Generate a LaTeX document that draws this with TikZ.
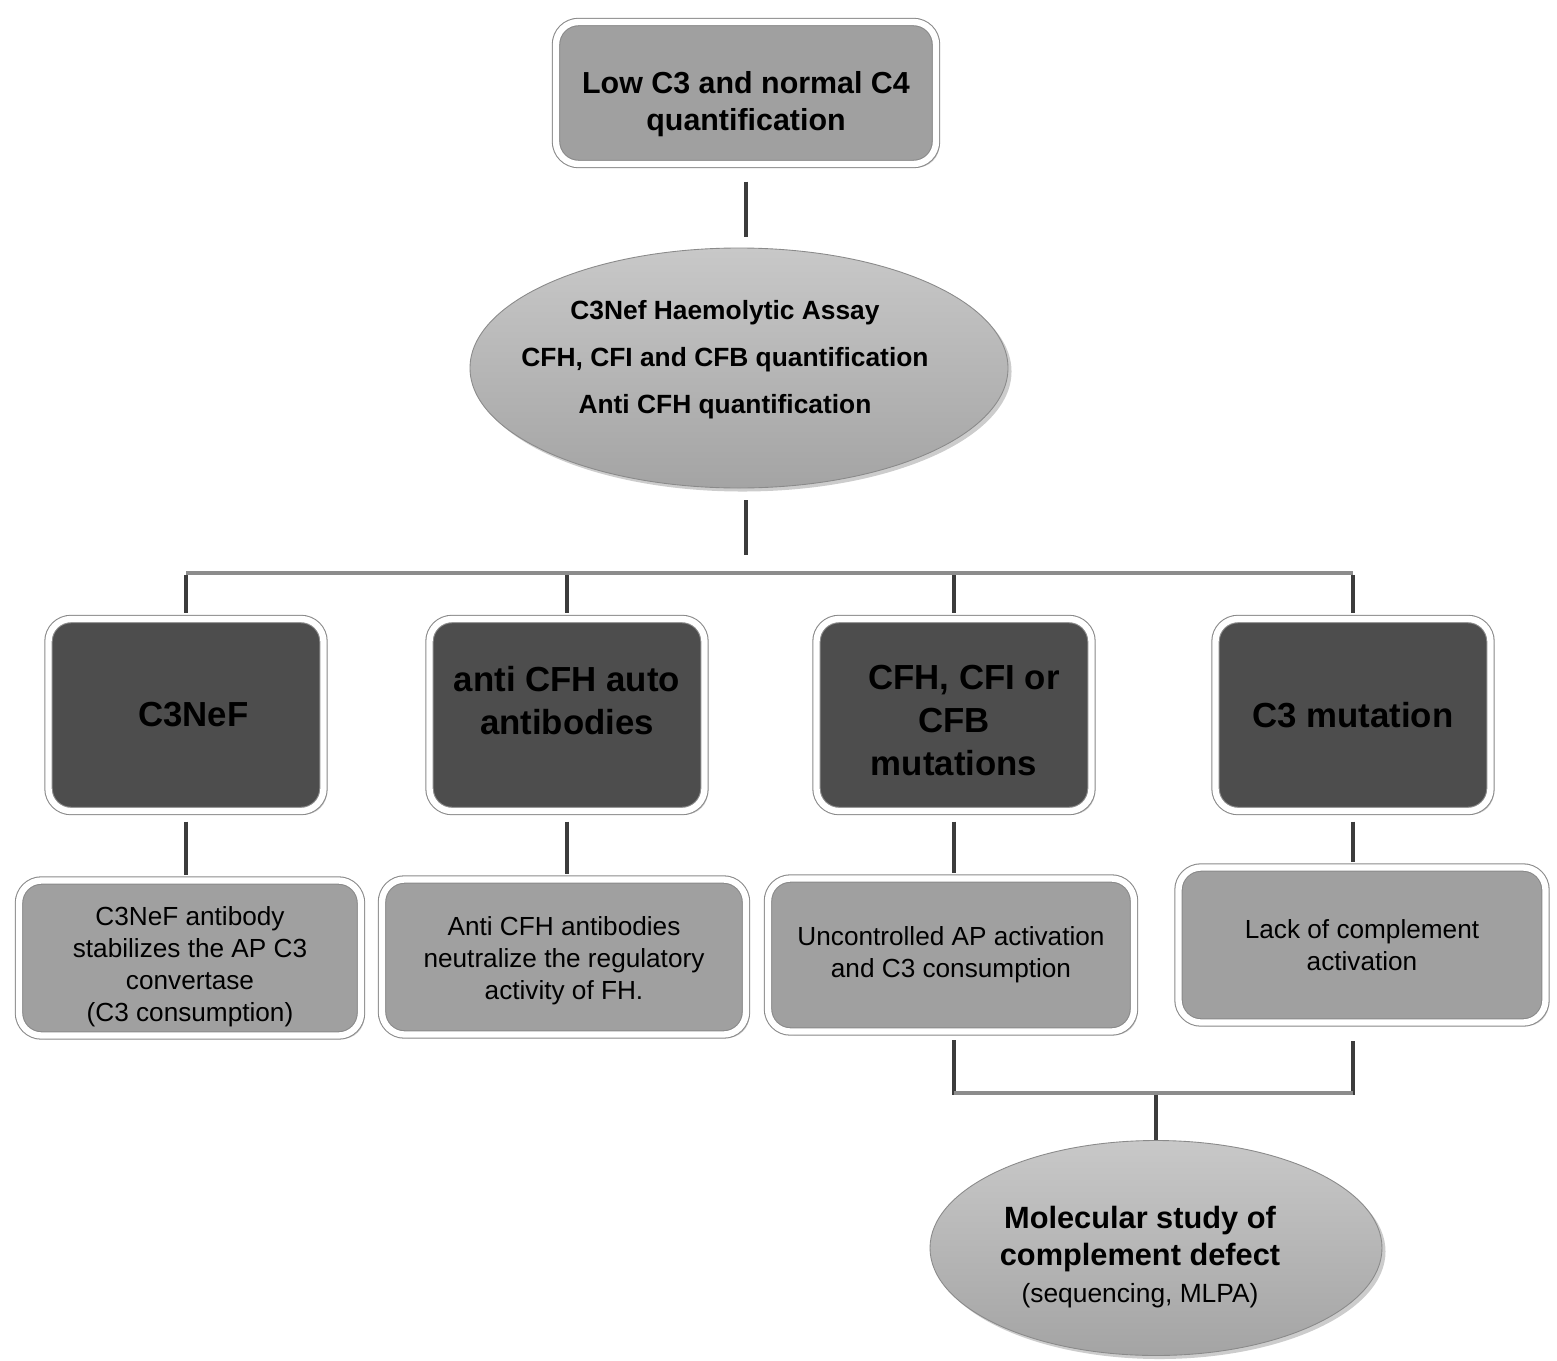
\documentclass[tikz,border=0pt]{standalone}
\usepackage{fontspec}
\setmainfont{Liberation Sans}
\usetikzlibrary{positioning}
\usetikzlibrary{shapes.geometric}
\usetikzlibrary{shadows}
\definecolor{boxgray}{HTML}{A0A0A0}
\definecolor{darkbox}{HTML}{4D4D4D}
\definecolor{rimgray}{HTML}{8A8A8A}
\definecolor{linkgray}{HTML}{3C3C3C}
\definecolor{busgray}{HTML}{8C8C8C}
\definecolor{testtop}{HTML}{C8C8C8}
\definecolor{testbot}{HTML}{A4A4A4}
\tikzset{
	framed/.style={rectangle, rounded corners=0.45cm, draw=rimgray, line width=0.6pt, double=white, double distance=3.6pt, drop shadow={shadow xshift=2pt, shadow yshift=-2pt, opacity=0.4}},
	header/.style={framed, fill=boxgray, minimum width=7.6cm, minimum height=2.84cm, align=center, font=\fontsize{17.3}{21}\selectfont\bfseries},
	finding/.style={framed, fill=darkbox, minimum width=5.5cm, minimum height=3.84cm, align=center, font=\fontsize{19.8}{24.5}\selectfont\bfseries},
	effect/.style={framed, fill=boxgray, minimum height=3.1cm, align=center, font=\fontsize{14.9}{18.2}\selectfont},
	% grey ellipses for the tests
	test/.style={ellipse, draw=rimgray, line width=0.5pt, top color=testtop, bottom color=testbot, inner xsep=-1.6cm, drop shadow={shadow xshift=2pt, shadow yshift=-2pt, opacity=0.4}, align=center},
	link/.style={draw=linkgray, line width=2pt},
	bus/.style={draw=busgray, line width=2pt},
}

\begin{document}
\begin{tikzpicture}
	\useasboundingbox (0,0) rectangle (31.14,-27.22);
	
	\node (screen) [header, text height=46.7pt] at (14.92,-1.86) {Low C3 and normal C4\\quantification};
	\node (assay) [test, minimum width=10.76cm, minimum height=4.8cm, text depth=12.6pt, font=\fontsize{15}{26.7}\selectfont\bfseries, below of=screen, xshift=-0.14cm, yshift=-4.5cm] {C3Nef Haemolytic Assay\rule{0.56cm}{0pt}\\CFH, CFI and CFB quantification\rule{0.56cm}{0pt}\\Anti CFH quantification\rule{0.56cm}{0pt}};
	
	\node (c3nef) [finding, below of=assay, xshift=-11.06cm, yshift=-5.94cm] {\rule{0.3cm}{0pt}C3NeF};
	\node (antifh) [finding, text depth=16.8pt, right of=c3nef, xshift=6.62cm] {anti CFH auto\\antibodies};
	\node (fhmut) [finding, text height=68.8pt, right of=antifh, xshift=6.74cm] {\rule{0.4cm}{0pt}CFH, CFI or\\CFB\\mutations};
	\node (c3mut) [finding, right of=fhmut, xshift=6.98cm] {C3 mutation};
	
	\node (stab) [effect, text height=75.7pt, minimum width=6.84cm, below of=c3nef, xshift=0.08cm, yshift=-3.86cm] {C3NeF antibody\\stabilizes the AP C3\\convertase\\(C3 consumption)};
	\node (neutr) [effect, text height=51.5pt, minimum width=7.28cm, below of=antifh, xshift=-0.06cm, yshift=-3.84cm] {Anti CFH antibodies\\neutralize the regulatory\\activity of FH.};
	\node (uncontr) [effect, minimum width=7.32cm, minimum height=3.06cm, below of=fhmut, xshift=-0.06cm, yshift=-3.8cm] {Uncontrolled AP activation\\and C3 consumption};
	\node (lack) [effect, minimum width=7.34cm, below of=c3mut, xshift=0.18cm, yshift=-3.6cm] {Lack of complement\\activation};
	
	\node (molec) [test, minimum width=9.04cm, minimum height=4.3cm, text height=65.1pt, font=\fontsize{17.5}{21}\selectfont\bfseries, below of=uncontr, xshift=4.1cm, yshift=-4.86cm] {Molecular study of\rule{0.64cm}{0pt}\\complement defect\rule{0.64cm}{0pt}\\{\fontsize{15}{21.6}\selectfont\mdseries (sequencing, MLPA)}\rule{0.64cm}{0pt}};
	
	\coordinate [below of=assay, yshift=-3.1cm] (bus);
	\coordinate [above of=molec, yshift=2.1cm] (join);
	
	\begin{scope}[link]
		\draw [shorten <=0.34cm, shorten >=0.22cm] (screen) -- (screen |- assay.north);
		\draw [shorten <=0.24cm, shorten >=0.36cm] (screen |- assay.south) -- (screen |- bus);
		\foreach \n in {c3nef, antifh, fhmut, c3mut}
			\draw [shorten <=1pt, shorten >=0.1cm] (\n |- bus) -- (\n);
		
		\draw [shorten <=0.2cm, shorten >=0.1cm] (c3nef) -- (c3nef |- stab.north);
		\draw [shorten <=0.2cm, shorten >=0.1cm] (antifh) -- (antifh |- neutr.north);
		\draw [shorten <=0.2cm, shorten >=0.1cm] (fhmut) -- (fhmut |- uncontr.north);
		\draw [shorten <=0.2cm, shorten >=0.1cm] (c3mut) -- (c3mut |- lack.north);
		
		\draw [shorten <=0.16cm, shorten >=0.36cm] (fhmut |- uncontr.south) -- (fhmut |- join) -- (c3mut |- join) -- (c3mut |- lack.south);
		\draw (join) -- (molec);
	\end{scope}
	\draw [bus] (c3nef |- bus) -- (c3mut |- bus);
	\draw [bus] (fhmut |- join) -- (c3mut |- join);
\end{tikzpicture}
\end{document}
